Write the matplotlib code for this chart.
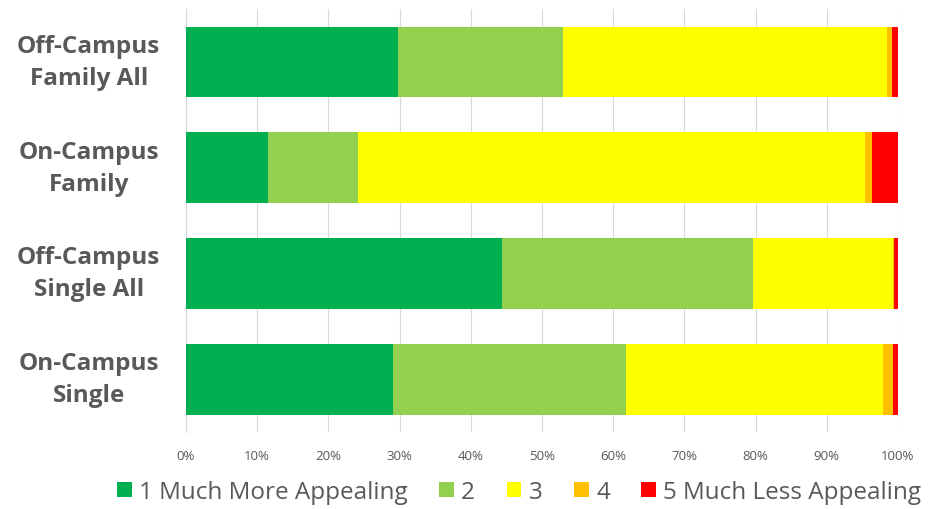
import numpy as np
import matplotlib.pyplot as plt
from matplotlib import rcParams

rcParams['font.family'] = ['Open Sans', 'DejaVu Sans']

groups = ["Off-Campus\nFamily All", "On-Campus\nFamily", "Off-Campus\nSingle All", "On-Campus\nSingle"]
levels = ["1 Much More Appealing", "2", "3", "4", "5 Much Less Appealing"]
colors = ["#00B050", "#92D050", "#FFFF00", "#FFC000", "#FF0000"]

# percent shares per group, order matches levels
s1 = [29.8, 11.5, 44.4, 29.1]
s2 = [23.1, 12.7, 35.2, 32.7]
s3 = [45.5, 71.2, 19.7, 36.1]
s4 = [0.7, 1.0, 0.1, 1.4]
s5 = [0.9, 3.6, 0.6, 0.7]
series = [s1, s2, s3, s4, s5]

fig = plt.figure(figsize=(9.34, 5.10), dpi=100)
ax = fig.add_axes([0.1991, 0.151, 0.7623, 0.829])

y = np.arange(len(groups))
left = np.zeros(len(groups))
for vals, lab, c in zip(series, levels, colors):
    vals = np.array(vals)
    ax.barh(y, vals, left=left, height=0.67, color=c, label=lab, zorder=3)
    left += vals

ax.set_xlim(0, 100)
ax.set_ylim(3.5, -0.5)
ax.set_xticks(np.arange(0, 101, 10))
ax.set_xticklabels([f"{v}%" for v in range(0, 101, 10)], fontsize=9.5, color="#595959")
ax.set_yticks(y)
ax.set_yticklabels(groups, fontsize=17.5, fontweight="bold", color="#595959",
                   ha="center", va="center", linespacing=1.45)
ax.tick_params(length=0)
ax.tick_params(axis='x', pad=12)
ax.tick_params(axis='y', pad=70)
ax.grid(axis='x', color="#D9D9D9", linewidth=0.8, zorder=0)
for sp in ["top", "right", "bottom"]:
    ax.spines[sp].set_visible(False)
ax.spines["left"].set_color("#D9D9D9")

leg = fig.legend(loc="center", bbox_to_anchor=(0.556, 0.033), ncol=5, frameon=False,
                 fontsize=17.5, handlelength=0.6, handleheight=0.6, handletextpad=0.3,
                 columnspacing=1.3, labelcolor="#595959")

fig.savefig("out.png", dpi=100)
